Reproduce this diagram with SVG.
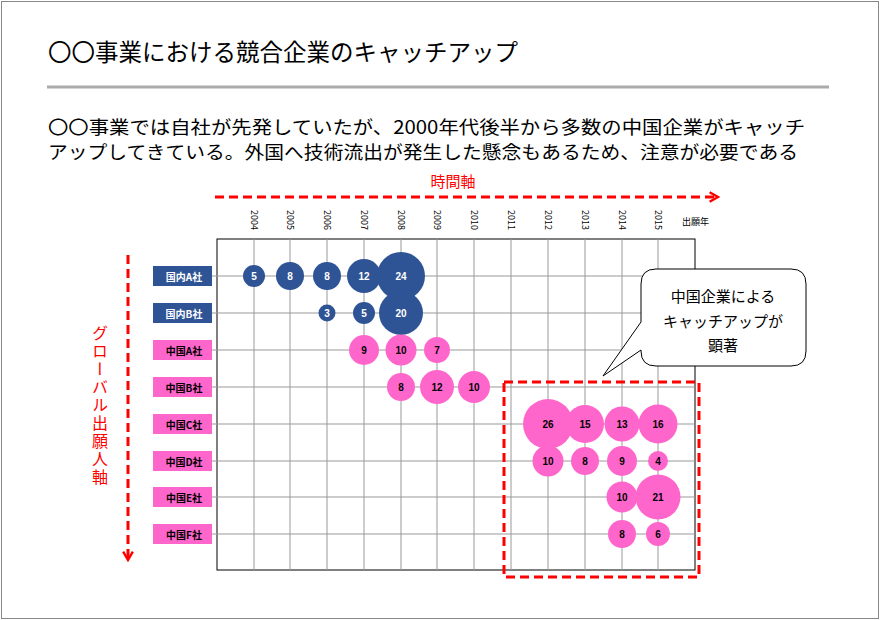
<svg xmlns="http://www.w3.org/2000/svg" width="880" height="620" viewBox="0 0 880 620">
<style>
text{font-family:"Noto Sans CJK JP","Noto Sans",sans-serif}
.g{stroke:#999;stroke-width:1}
.lb{font-size:10px;font-weight:bold;text-anchor:middle;dominant-baseline:central}
.yr{font-size:9px;font-family:"Liberation Sans",sans-serif}
.bn{font-size:10px;font-weight:bold;text-anchor:middle;dominant-baseline:central;font-family:"Liberation Sans",sans-serif}
.dom{fill:#2F5496}.cn{fill:#FF66CC}
.red{stroke:#FF0000;stroke-width:3;stroke-dasharray:9,5;fill:none}
</style>
<defs><marker id="ah" viewBox="0 0 10 10" refX="8" refY="5" markerWidth="4" markerHeight="4" orient="auto"><path d="M1,1 L8,5 L1,9" fill="none" stroke="#f00" stroke-width="2"/></marker></defs>
<rect x="1.5" y="1.5" width="877" height="617" fill="#fff" stroke="#888"/>
<text x="48" y="61" font-size="23.5">〇〇事業における競合企業のキャッチアップ</text>
<line x1="47" y1="87" x2="829" y2="87" stroke="#aaa" stroke-width="3"/>
<text x="48" y="134" font-size="18.5" textLength="757" lengthAdjust="spacingAndGlyphs">〇〇事業では自社が先発していたが、2000年代後半から多数の中国企業がキャッチ</text>
<text x="48" y="159" font-size="18.5" textLength="750" lengthAdjust="spacingAndGlyphs">アップしてきている。外国へ技術流出が発生した懸念もあるため、注意が必要である</text>
<g id="axes">
<text x="453" y="187" font-size="15" fill="#f00" text-anchor="middle">時間軸</text>
<line x1="215" y1="197" x2="718" y2="197" class="red" marker-end="url(#ah)"/>
<text x="100" y="325" font-size="16" fill="#f00" writing-mode="vertical-rl" letter-spacing="2">グローバル出願人軸</text>
<line x1="128" y1="255" x2="128" y2="560" class="red" marker-end="url(#ah)"/>
</g>
<g id="grid">
<rect x="217" y="239" width="478" height="331" fill="#fff" stroke="#000"/>
<g class="g">
<line x1="254" y1="239" x2="254" y2="570"/><line x1="290" y1="239" x2="290" y2="570"/><line x1="327" y1="239" x2="327" y2="570"/><line x1="364" y1="239" x2="364" y2="570"/><line x1="401" y1="239" x2="401" y2="570"/><line x1="437" y1="239" x2="437" y2="570"/><line x1="474" y1="239" x2="474" y2="570"/><line x1="511" y1="239" x2="511" y2="570"/><line x1="548" y1="239" x2="548" y2="570"/><line x1="585" y1="239" x2="585" y2="570"/><line x1="622" y1="239" x2="622" y2="570"/><line x1="658" y1="239" x2="658" y2="570"/>
<line x1="200" y1="276" x2="695" y2="276"/><line x1="200" y1="313" x2="695" y2="313"/><line x1="200" y1="350" x2="695" y2="350"/><line x1="200" y1="387" x2="695" y2="387"/><line x1="200" y1="424" x2="695" y2="424"/><line x1="200" y1="461" x2="695" y2="461"/><line x1="200" y1="497" x2="695" y2="497"/><line x1="200" y1="534" x2="695" y2="534"/>
</g>
<g class="yr">
<text transform="translate(251,210) rotate(90)">2004</text><text transform="translate(287,210) rotate(90)">2005</text><text transform="translate(324,210) rotate(90)">2006</text><text transform="translate(361,210) rotate(90)">2007</text><text transform="translate(398,210) rotate(90)">2008</text><text transform="translate(434,210) rotate(90)">2009</text><text transform="translate(471,210) rotate(90)">2010</text><text transform="translate(508,210) rotate(90)">2011</text><text transform="translate(545,210) rotate(90)">2012</text><text transform="translate(582,210) rotate(90)">2013</text><text transform="translate(619,210) rotate(90)">2014</text><text transform="translate(655,210) rotate(90)">2015</text>
</g>
<text x="682" y="225" font-size="9">出願年</text>
</g>
<g id="labels">
<rect x="153" y="266" width="59" height="20" class="dom"/><text x="184" y="276" class="lb" fill="#fff">国内A社</text>
<rect x="153" y="303" width="59" height="20" class="dom"/><text x="184" y="313" class="lb" fill="#fff">国内B社</text>
<rect x="153" y="340" width="59" height="20" class="cn"/><text x="184" y="350" class="lb">中国A社</text>
<rect x="153" y="377" width="59" height="20" class="cn"/><text x="184" y="387" class="lb">中国B社</text>
<rect x="153" y="414" width="59" height="20" class="cn"/><text x="184" y="424" class="lb">中国C社</text>
<rect x="153" y="451" width="59" height="20" class="cn"/><text x="184" y="461" class="lb">中国D社</text>
<rect x="153" y="487" width="59" height="20" class="cn"/><text x="184" y="497" class="lb">中国E社</text>
<rect x="153" y="524" width="59" height="20" class="cn"/><text x="184" y="534" class="lb">中国F社</text>
</g>
<g id="bubbles">
<circle cx="254" cy="276" r="11" class="dom"/><text x="254" y="276" class="bn" fill="#fff">5</text>
<circle cx="290" cy="276" r="14" class="dom"/><text x="290" y="276" class="bn" fill="#fff">8</text>
<circle cx="327" cy="276" r="14" class="dom"/><text x="327" y="276" class="bn" fill="#fff">8</text>
<circle cx="364" cy="276" r="17" class="dom"/><text x="364" y="276" class="bn" fill="#fff">12</text>
<circle cx="401" cy="313" r="22" class="dom"/>
<circle cx="401" cy="276" r="24" class="dom"/><text x="401" y="276" class="bn" fill="#fff">24</text>
<text x="401" y="313" class="bn" fill="#fff">20</text>
<circle cx="327" cy="313" r="8.5" class="dom"/><text x="327" y="313" class="bn" fill="#fff">3</text>
<circle cx="364" cy="313" r="11" class="dom"/><text x="364" y="313" class="bn" fill="#fff">5</text>
<circle cx="364" cy="350" r="15" class="cn"/><text x="364" y="350" class="bn">9</text>
<circle cx="401" cy="350" r="15.5" class="cn"/><text x="401" y="350" class="bn">10</text>
<circle cx="437" cy="350" r="13" class="cn"/><text x="437" y="350" class="bn">7</text>
<circle cx="401" cy="387" r="14" class="cn"/><text x="401" y="387" class="bn">8</text>
<circle cx="437" cy="387" r="17" class="cn"/><text x="437" y="387" class="bn">12</text>
<circle cx="474" cy="387" r="16" class="cn"/><text x="474" y="387" class="bn">10</text>
<circle cx="548" cy="424" r="25" class="cn"/><text x="548" y="424" class="bn">26</text>
<circle cx="585" cy="424" r="19" class="cn"/><text x="585" y="424" class="bn">15</text>
<circle cx="622" cy="424" r="17.5" class="cn"/><text x="622" y="424" class="bn">13</text>
<circle cx="658" cy="424" r="19.5" class="cn"/><text x="658" y="424" class="bn">16</text>
<circle cx="548" cy="461" r="15.5" class="cn"/><text x="548" y="461" class="bn">10</text>
<circle cx="585" cy="461" r="14" class="cn"/><text x="585" y="461" class="bn">8</text>
<circle cx="622" cy="461" r="15" class="cn"/><text x="622" y="461" class="bn">9</text>
<circle cx="658" cy="461" r="10" class="cn"/><text x="658" y="461" class="bn">4</text>
<circle cx="622" cy="497" r="15.5" class="cn"/><text x="622" y="497" class="bn">10</text>
<circle cx="658" cy="497" r="22.5" class="cn"/><text x="658" y="497" class="bn">21</text>
<circle cx="622" cy="534" r="14" class="cn"/><text x="622" y="534" class="bn">8</text>
<circle cx="658" cy="534" r="12" class="cn"/><text x="658" y="534" class="bn">6</text>
</g>
<g id="highlight">
<rect x="504" y="382" width="195" height="195" class="red"/>
</g>
<g id="callout">
<path d="M656,269 H791 Q806,269 806,284 V351 Q806,366 791,366 H656 Q641,366 641,351 V350 L603,376 L641,322 V284 Q641,269 656,269 Z" fill="#fff" stroke="#000"/>
<text font-size="15" text-anchor="middle"><tspan x="723" y="302">中国企業による</tspan><tspan x="723" y="327">キャッチアップが</tspan><tspan x="723" y="351">顕著</tspan></text>
</g>
</svg>
